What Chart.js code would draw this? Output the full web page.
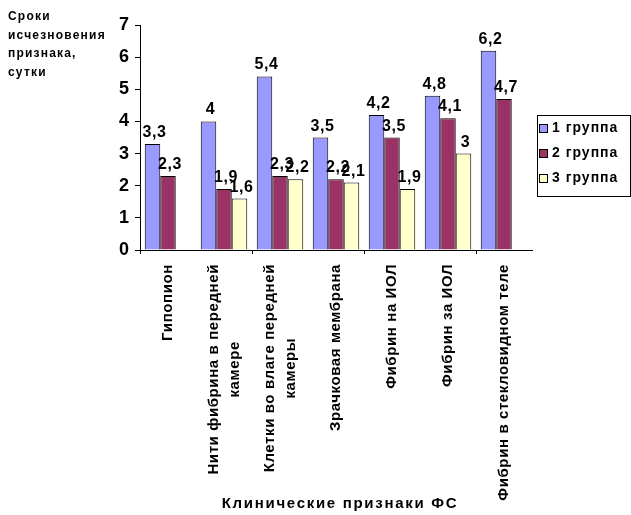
<!DOCTYPE html>
<html>
<head>
<meta charset="utf-8">
<script src="https://cdn.jsdelivr.net/npm/chart.js@4/dist/chart.umd.min.js"></script>
<style>
  html, body { margin: 0; padding: 0; background: #fff; }
  #wrap { position: relative; width: 631px; height: 515px; }
</style>
</head>
<body>
<div id="wrap"><canvas id="c" width="631" height="515"></canvas></div>
<script>
// Clinical signs (category labels, split into lines)
const categories = [
  ['Гипопион'],
  ['Нити фибрина в передней', 'камере'],
  ['Клетки во влаге передней', 'камеры'],
  ['Зрачковая мембрана'],
  ['Фибрин на ИОЛ'],
  ['Фибрин за ИОЛ'],
  ['Фибрин в стекловидном теле']
];
const seriesNames = ['1 группа', '2 группа', '3 группа'];
// Days until the sign disappears, per group
const group1 = [3.3, 4, 5.4, 3.5, 4.2, 4.8, 6.2];
const group2 = [2.3, 1.9, 2.3, 2.2, 3.5, 4.1, 4.7];
const group3 = [null, 1.6, 2.2, 2.1, 1.9, 3, null];
const yTicks = [0, 1, 2, 3, 4, 5, 6, 7];

const yTitleLines = ['Сроки', 'исчезновения', 'признака,', 'сутки'];
const xTitle = 'Клинические признаки ФС';

const FONT = 'Arial, "Liberation Sans", sans-serif';
const fmt = v => String(v).replace('.', ',');

// Value labels above each bar
const valueLabels = {
  id: 'valueLabels',
  afterDatasetsDraw(chart) {
    const ctx = chart.ctx;
    ctx.save();
    ctx.font = 'bold 16px ' + FONT;
    ctx.letterSpacing = '0.6px';
    ctx.fillStyle = '#000';
    ctx.textAlign = 'center';
    ctx.textBaseline = 'alphabetic';
    chart.data.datasets.forEach((ds, di) => {
      const meta = chart.getDatasetMeta(di);
      meta.data.forEach((el, i) => {
        const v = ds.data[i];
        if (v === null || v === undefined) return;
        ctx.fillText(fmt(v), el.x + 2, el.y - 7);
      });
    });
    ctx.restore();
  }
};

// Rotated category labels, axis titles and the framed legend
const decorations = {
  id: 'decorations',
  afterDraw(chart) {
    const ctx = chart.ctx;
    const xs = chart.scales.x;
    ctx.save();
    ctx.fillStyle = '#000';

    // category labels, read bottom-to-top, lines centred within each block
    ctx.font = 'bold 15px ' + FONT;
    ctx.letterSpacing = '0.6px';
    const top = xs.top + 14;
    const lineH = 21;
    categories.forEach((lines, i) => {
      const x = xs.getPixelForValue(i);
      const maxW = Math.max(...lines.map(l => ctx.measureText(l).width));
      ctx.save();
      ctx.translate(x, top);
      ctx.rotate(-Math.PI / 2);
      ctx.textAlign = 'center';
      ctx.textBaseline = 'middle';
      lines.forEach((l, j) => {
        ctx.fillText(l, -maxW / 2, (j - (lines.length - 1) / 2) * lineH);
      });
      ctx.restore();
    });

    // x axis title
    ctx.font = 'bold 15px ' + FONT;
    ctx.letterSpacing = '1.7px';
    ctx.textAlign = 'center';
    ctx.textBaseline = 'middle';
    ctx.fillText(xTitle, 340, 504);

    // y axis title, top-left
    ctx.font = 'bold 12px ' + FONT;
    ctx.textAlign = 'left';
    ctx.letterSpacing = '1.2px';
    yTitleLines.forEach((l, j) => ctx.fillText(l, 8, 17 + j * 18.5));

    // legend
    const lx = 537.5, ly = 115.5, lw = 93, lh = 81;
    ctx.letterSpacing = '0px';
    ctx.strokeStyle = '#000';
    ctx.lineWidth = 1;
    ctx.strokeRect(lx, ly, lw, lh);
    ctx.font = 'bold 14px ' + FONT;
    ctx.textBaseline = 'middle';
    chart.data.datasets.forEach((ds, di) => {
      const cy = 128.5 + di * 25;
      ctx.fillStyle = ds.backgroundColor;
      ctx.fillRect(539.5, cy - 4, 8, 8);
      ctx.strokeRect(539.5, cy - 4, 8, 8);
      ctx.fillStyle = '#000';
      ctx.letterSpacing = '1px';
      ctx.fillText(ds.label, 552, cy);
      ctx.letterSpacing = '0px';
    });
    ctx.restore();
  }
};

const colors = ['#9999FF', '#993366', '#FFFFCC'];
const seriesData = [group1, group2, group3];

new Chart(document.getElementById('c'), {
  type: 'bar',
  data: {
    labels: categories.map(c => c.join(' ')),
    datasets: seriesNames.map((name, k) => ({
      label: name,
      data: seriesData[k],
      backgroundColor: colors[k],
      borderColor: '#000',
      borderWidth: 1,
      borderSkipped: 'bottom',
      barPercentage: 1,
      categoryPercentage: 0.83
    }))
  },
  options: {
    responsive: false,
    animation: false,
    devicePixelRatio: 1,
    layout: { padding: { top: 25, right: 99, left: 0, bottom: 0 } },
    plugins: { legend: { display: false }, tooltip: { enabled: false } },
    scales: {
      x: {
        offset: true,
        ticks: { display: false },
        grid: {
          offset: true,
          drawOnChartArea: false,
          drawTicks: true,
          tickLength: 4,
          color: ctx => (ctx.index % 2 === 0 ? '#000' : 'rgba(0,0,0,0)')
        },
        border: { color: '#000', width: 1 },
        afterFit: s => { s.height = 265; }
      },
      y: {
        min: yTicks[0],
        max: yTicks[yTicks.length - 1],
        afterBuildTicks: s => { s.ticks = yTicks.map(v => ({ value: v })); },
        ticks: {
          font: { family: FONT, size: 18, weight: 'bold' },
          color: '#000',
          padding: 6
        },
        grid: { drawOnChartArea: false, tickLength: 5, color: '#000' },
        border: { color: '#000', width: 1 },
        afterFit: s => { s.width = 140; }
      }
    }
  },
  plugins: [valueLabels, decorations]
});
</script>
</body>
</html>
